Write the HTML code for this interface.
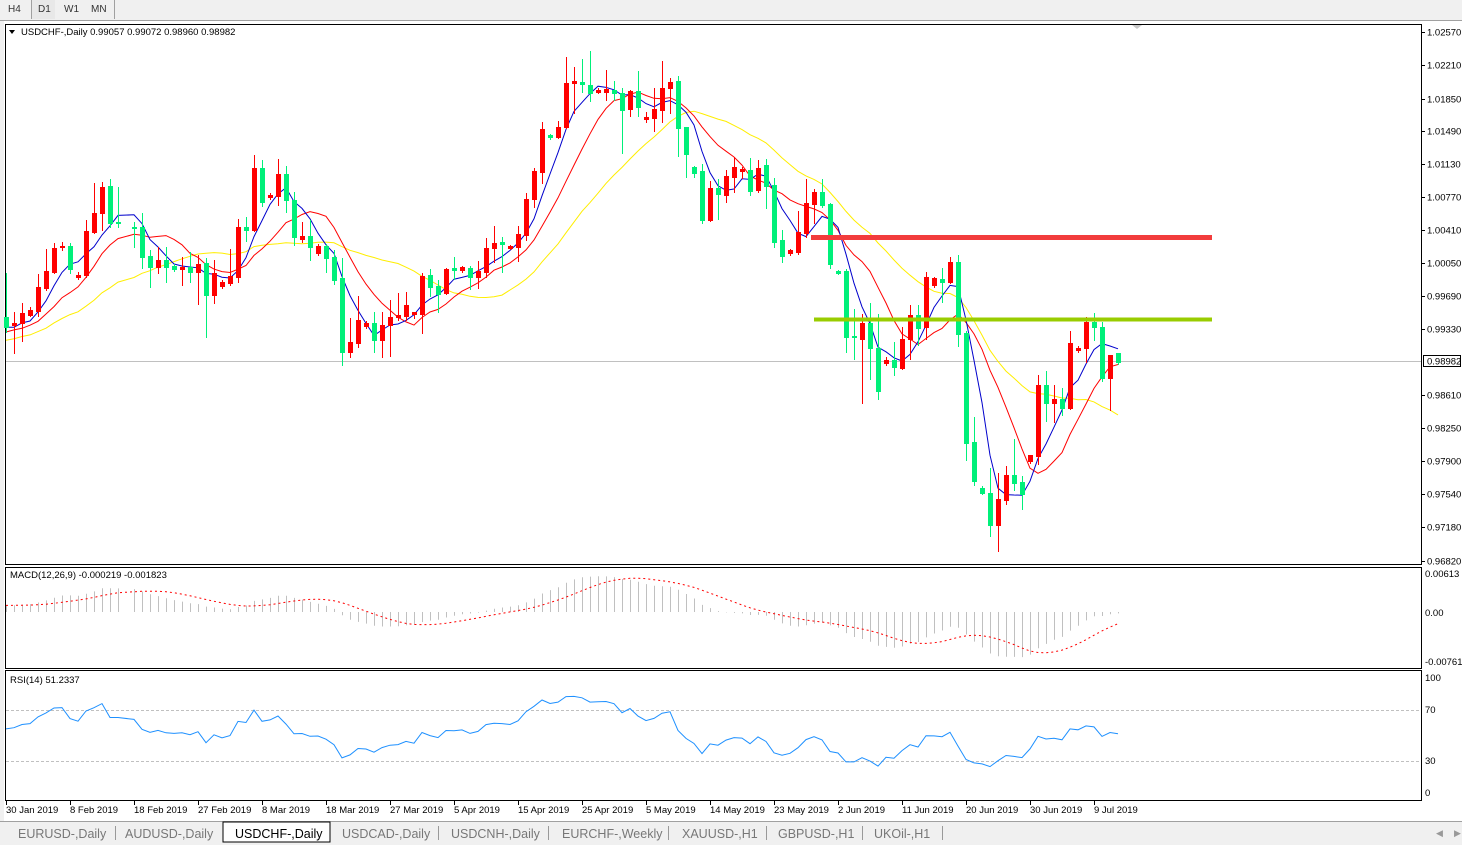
<!DOCTYPE html>
<html><head><meta charset="utf-8"><style>
body{margin:0;width:1462px;height:845px;overflow:hidden;background:#fff;font-family:"Liberation Sans",sans-serif}
svg{position:absolute;left:0;top:0}
</style></head><body>
<svg id="s" width="1462" height="845" xmlns="http://www.w3.org/2000/svg" font-family="Liberation Sans, sans-serif" font-size="10">
<rect x="0" y="0" width="1462" height="20" fill="#f0f0f0"/>
<line x1="0" y1="20.5" x2="1462" y2="20.5" stroke="#a0a0a0"/>
<line x1="31.5" y1="0" x2="31.5" y2="19" stroke="#a0a0a0"/>
<rect x="32" y="0" width="23" height="19" fill="#e8e8e8"/>
<line x1="114.5" y1="0" x2="114.5" y2="19" stroke="#a0a0a0"/>
<text x="8" y="12" fill="#333">H4</text><text x="38" y="12" fill="#333">D1</text><text x="64" y="12" fill="#333">W1</text><text x="91" y="12" fill="#333">MN</text>
<rect x="0" y="21" width="4" height="800" fill="#f0f0f0"/>
<rect x="5.5" y="24.5" width="1416" height="540" fill="none" stroke="#000"/>
<rect x="5.5" y="567.5" width="1416" height="101" fill="none" stroke="#000"/>
<rect x="5.5" y="670.5" width="1416" height="130" fill="none" stroke="#000"/>
<line x1="6" y1="361.5" x2="1421" y2="361.5" stroke="#c0c0c0"/>
<line x1="6" y1="710.5" x2="1421" y2="710.5" stroke="#c0c0c0" stroke-dasharray="3,2"/>
<line x1="6" y1="761.5" x2="1421" y2="761.5" stroke="#c0c0c0" stroke-dasharray="3,2"/>
<g id="g"></g>
<rect x="811" y="235" width="401" height="5" fill="#f23c3c"/>
<rect x="814" y="317.5" width="398" height="4" fill="#99cc00"/>
<path d="M1132 25 l5 4 l5 -4z" fill="#c8c8c8"/>
<path d="M9 30 l6 0 l-3 4z" fill="#000"/>
<text x="21" y="35" font-size="9.5">USDCHF-,Daily  0.99057 0.99072 0.98960 0.98982</text>
<text x="10" y="578" font-size="9.5">MACD(12,26,9) -0.000219 -0.001823</text>
<text x="10" y="683" font-size="9.5">RSI(14) 51.2337</text>
<rect x="0" y="821" width="1462" height="24" fill="#f0f0f0"/>
<line x1="0" y1="821.5" x2="1462" y2="821.5" stroke="#a0a0a0"/>
<rect x="223" y="822" width="107" height="20" fill="#fff" stroke="#000"/>
<g font-size="12.5" fill="#777">
<text x="18" y="838">EURUSD-,Daily</text><text x="125" y="838">AUDUSD-,Daily</text>
<text x="235" y="838" fill="#000">USDCHF-,Daily</text><text x="342" y="838">USDCAD-,Daily</text>
<text x="451" y="838">USDCNH-,Daily</text><text x="562" y="838">EURCHF-,Weekly</text>
<text x="682" y="838">XAUUSD-,H1</text><text x="778" y="838">GBPUSD-,H1</text><text x="874" y="838">UKOil-,H1</text>
</g>
<g stroke="#999"><line x1="115.5" y1="826" x2="115.5" y2="840"/><line x1="438.5" y1="826" x2="438.5" y2="840"/><line x1="548.5" y1="826" x2="548.5" y2="840"/><line x1="668.5" y1="826" x2="668.5" y2="840"/><line x1="766.5" y1="826" x2="766.5" y2="840"/><line x1="862.5" y1="826" x2="862.5" y2="840"/><line x1="942.5" y1="826" x2="942.5" y2="840"/></g>
<text x="1436" y="836" fill="#999" font-size="9">◀</text><text x="1454" y="836" fill="#999" font-size="9">▶</text>
</svg>
<script>
var D=[[6,317,327,273,332,'g'],[14,323,325,312,353,'r'],[22,313,323,303,341,'r'],[30,310,315,307,316,'r'],[38,287,311,274,316,'r'],[46,271,288,249,290,'r'],[54,248,272,243,273,'r'],[62,246,247,242,250,'r'],[70,246,269,243,273,'g'],[78,275,277,272,279,'r'],[86,231,275,220,277,'r'],[94,213,232,183,233,'r'],[102,187,213,182,230,'r'],[110,186,223,179,227,'g'],[118,222,223,187,227,'g'],
[134,227,228,222,247,'g'],[142,227,257,213,268,'g'],[150,256,267,250,287,'g'],[158,260,267,247,273,'r'],[166,260,267,247,282,'g'],[174,266,269,264,271,'g'],[182,267,269,257,285,'r'],[190,267,272,252,282,'g'],[198,264,272,255,304,'r'],[206,263,295,258,337,'g'],[214,273,295,260,303,'r'],[222,282,286,280,288,'r'],[230,276,283,249,285,'r'],[238,227,277,219,282,'r'],[246,227,230,217,241,'g'],[254,168,230,155,231,'r'],[262,168,202,160,206,'g'],[270,195,197,193,199,'r'],[278,174,196,159,205,'r'],[286,174,200,166,212,'g'],[294,200,237,192,245,'g'],[302,236,239,222,242,'r'],[310,236,247,220,260,'g'],[318,246,253,244,255,'r'],[326,246,258,244,272,'g'],[334,257,280,250,284,'g'],[342,278,352,258,365,'g'],[350,342,352,318,357,'r'],[358,320,343,296,347,'r'],[366,323,326,321,328,'r'],[374,323,340,312,352,'g'],[382,325,340,312,357,'r'],[390,317,325,300,356,'r'],[398,315,317,293,320,'r'],[406,305,316,292,320,'r'],[414,312,314,312,318,'r'],[422,276,314,273,333,'r'],[430,275,287,269,296,'g'],[438,286,294,280,312,'g'],[446,269,293,268,294,'r'],[454,268,270,257,279,'g'],[462,267,270,266,272,'r'],[470,268,277,266,289,'g'],[478,271,277,261,288,'r'],[486,248,272,238,277,'r'],[494,243,248,226,262,'r'],[502,242,244,237,272,'g'],[510,246,248,245,249,'r'],[518,234,247,226,261,'r'],[526,199,235,193,240,'r'],[534,171,199,168,207,'r'],[542,129,172,122,183,'r'],[550,135,137,134,139,'g'],[558,127,137,121,138,'r'],[566,83,127,57,128,'r'],[574,81,83,67,113,'r'],[582,82,84,59,92,'g'],[590,85,93,51,101,'g'],[598,90,92,88,93,'r'],[606,89,92,70,100,'r'],[614,90,93,81,100,'g'],[622,93,110,88,153,'g'],[630,91,109,90,116,'r'],[638,91,107,71,116,'g'],[646,117,119,112,122,'r'],[654,109,118,88,131,'r'],[662,88,110,61,122,'r'],[670,82,88,78,113,'r'],[678,81,128,76,156,'g'],[686,127,154,127,177,'g'],[694,167,173,166,177,'g'],[702,171,220,164,223,'g'],[710,188,220,181,221,'r'],[718,188,194,179,219,'g'],[726,176,195,170,202,'r'],[734,167,177,157,192,'r'],[742,169,171,167,178,'r'],[750,170,191,158,195,'g'],[758,168,190,160,192,'r'],[766,165,186,159,208,'g'],[774,185,242,178,247,'g'],[782,240,256,230,262,'g'],[790,250,253,249,255,'r'],[798,232,252,211,254,'r'],[806,203,233,179,237,'r'],[814,192,204,189,223,'r'],[822,192,205,179,207,'g'],[830,204,264,203,268,'g'],[838,271,273,270,274,'g'],[846,271,337,269,352,'g'],[854,336,337,309,359,'g'],[862,323,339,314,403,'r'],[870,323,348,303,379,'g'],[878,348,391,314,399,'g'],[886,360,363,357,365,'r'],[894,360,367,342,375,'g'],[902,339,368,327,369,'r'],[910,315,339,305,359,'r'],[918,315,328,305,345,'g'],[926,277,327,272,339,'r'],[934,278,285,277,287,'r'],[942,279,282,268,302,'g'],[950,262,282,257,283,'r'],[958,262,334,255,346,'g'],[966,333,443,331,460,'g'],[974,442,481,417,485,'g'],[982,488,493,486,494,'g'],[990,493,525,468,536,'g'],[998,499,525,473,551,'r'],[1006,475,500,466,504,'r'],[1014,475,483,439,490,'g'],[1022,482,494,476,509,'g'],[1030,455,461,455,463,'r'],[1038,385,456,375,464,'r'],[1046,385,403,371,421,'g'],[1054,399,403,385,422,'r'],[1062,399,408,388,415,'g'],[1070,343,408,331,409,'r'],[1078,348,350,346,352,'r'],[1086,322,348,317,362,'r'],[1094,322,327,313,340,'g'],[1102,327,378,322,381,'g'],[1110,355,378,355,410,'r'],[1118,353,362,353,364,'g']];
var h='',g=document.getElementById('g');
var P=[['1.02570',32],['1.02210',65],['1.01850',99],['1.01490',131],['1.01130',164],['1.00770',197],['1.00410',230],['1.00050',263],['0.99690',296],['0.99330',329],['0.98610',395],['0.98250',428],['0.97900',461],['0.97540',494],['0.97180',527],['0.96820',561]];
P.forEach(function(p){h+='<line x1="1421" y1="'+(p[1]+.5)+'" x2="1425" y2="'+(p[1]+.5)+'" stroke="#000"/><text x="1427" y="'+(p[1]+3.5)+'" font-size="9.5">'+p[0]+'</text>';});
h+='<rect x="1423" y="355" width="38" height="12" fill="#000"/><rect x="1424" y="356" width="36" height="10" fill="#fff"/><text x="1427" y="364.5" font-size="9.5">0.98982</text>';
[['0.00613',574],['0.00',613],['-0.00761',662]].forEach(function(p){h+='<text x="1425" y="'+(p[1]+3)+'" font-size="9.5">'+p[0]+'</text>';});
[['100',678],['70',710],['30',761],['0',793]].forEach(function(p){h+='<text x="1425" y="'+(p[1]+3)+'" font-size="9.5">'+p[0]+'</text>';});
var dl=['30 Jan 2019','8 Feb 2019','18 Feb 2019','27 Feb 2019','8 Mar 2019','18 Mar 2019','27 Mar 2019','5 Apr 2019','15 Apr 2019','25 Apr 2019','5 May 2019','14 May 2019','23 May 2019','2 Jun 2019','11 Jun 2019','20 Jun 2019','30 Jun 2019','9 Jul 2019'];
dl.forEach(function(d,i){var x=6+64*i;h+='<line x1="'+(x+.5)+'" y1="801" x2="'+(x+.5)+'" y2="805" stroke="#000"/><text x="'+x+'" y="813" font-size="9.5">'+d+'</text>';});
var C=D.map(function(d){return d[5]=='r'?d[1]:d[2];});
var pad=[];for(var i=0;i<40;i++)pad.push(385-60*i/39+((i%2)?7:-7)+((i%5==0)?6:0));
var N=pad.length;
var A=pad.concat(C);
function sma(n){var o=[];for(var i=0;i<C.length;i++){var s=0;for(var k=0;k<n;k++)s+=A[N+i-k];o.push(s/n);}return o;}
function line(arr,col){var s='';arr.forEach(function(v,i){s+=(i?'L':'M')+D[i][0]+' '+v.toFixed(1);});return '<path d="'+s+'" fill="none" stroke="'+col+'" stroke-width="1"/>';}
h+=line(sma(21),'#ffee00')+line(sma(10),'#ff0000')+line(sma(5),'#0000cc');
D.forEach(function(d){var c=d[5]=='r'?'#ff0000':'#00f07a';var x=d[0];
h+='<line x1="'+(x+.5)+'" y1="'+d[3]+'" x2="'+(x+.5)+'" y2="'+(d[4]+1)+'" stroke="'+c+'"/>';
h+='<rect x="'+(x-2)+'" y="'+d[1]+'" width="5" height="'+Math.max(1,d[2]-d[1]+1)+'" fill="'+c+'"/>';});
var pr=A.map(function(y){return 1.0257-(y-32)/9200;});
function ema(a,n){var k=2/(n+1),o=[a[0]];for(var i=1;i<a.length;i++)o.push(o[i-1]+k*(a[i]-o[i-1]));return o;}
var e12=ema(pr,12),e26=ema(pr,26),m=e12.map(function(v,i){return v-e26[i];});
var sig=[];for(var i=0;i<m.length;i++){var s=0,n=0;for(var k=0;k<9&&i-k>=0;k++){s+=m[i-k];n++;}sig.push(s/n);}
var ms=89/0.01374;
var sp='';
D.forEach(function(d,i){var v=m[N+i],y=Math.max(572,612-v*ms);h+='<line x1="'+(d[0]+.5)+'" y1="612" x2="'+(d[0]+.5)+'" y2="'+y.toFixed(1)+'" stroke="#c0c0c0"/>';sp+=(i?'L':'M')+d[0]+' '+(612-sig[N+i]*ms).toFixed(1);});
h+='<path d="'+sp+'" fill="none" stroke="#ff0000" stroke-dasharray="2,3"/>';
var ag=0,al=0,rs=[];
for(var i=1;i<pr.length;i++){var ch=pr[i]-pr[i-1],up=Math.max(ch,0),dn=Math.max(-ch,0);
if(i<=14){ag+=up/14;al+=dn/14;}else{ag=(ag*13+up)/14;al=(al*13+dn)/14;}rs.push(al==0?100:100-100/(1+ag/al));}
var rp='';D.forEach(function(d,i){var v=rs[N-1+i];rp+=(i?'L':'M')+d[0]+' '+(799-v*1.275).toFixed(1);});
h+='<path d="'+rp+'" fill="none" stroke="#1e90ff"/>';
g.innerHTML=h;
</script>
</body></html>
